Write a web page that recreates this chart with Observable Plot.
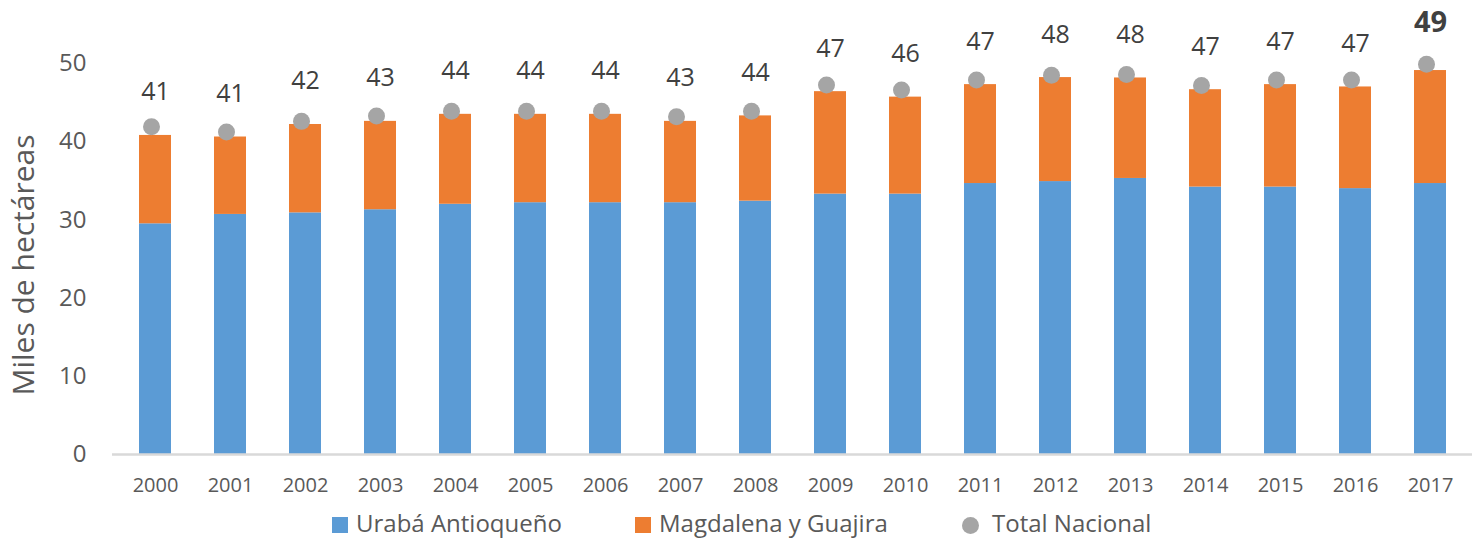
<!DOCTYPE html>
<html>
<head>
<meta charset="utf-8">
<script src="https://cdn.jsdelivr.net/npm/d3@7"></script>
<script src="https://cdn.jsdelivr.net/npm/@observablehq/plot@0.6"></script>
<style>
  html, body { margin: 0; padding: 0; background: #fff; }
  #chart svg { display: block; }
  #legend { position: relative; width: 1477px; height: 37px; font-family: "Open Sans", sans-serif; font-size: 24px; color: #595959; }
  #legend .sw { position: absolute; top: 12px; width: 16px; height: 16px; }
  #legend .lbl { position: absolute; top: 2px; line-height: 32px; white-space: nowrap; }
</style>
</head>
<body>
<div id="chart"></div>
<div id="legend"></div>
<script>
const years = ["2000","2001","2002","2003","2004","2005","2006","2007","2008","2009","2010","2011","2012","2013","2014","2015","2016","2017"];
const uraba = [29.5, 30.7, 30.9, 31.3, 32.0, 32.2, 32.2, 32.2, 32.4, 33.3, 33.3, 34.65, 34.9, 35.3, 34.2, 34.2, 34.0, 34.65];
const magdalena = [11.3, 9.9, 11.3, 11.3, 11.5, 11.3, 11.3, 10.4, 10.9, 13.1, 12.4, 12.65, 13.3, 12.85, 12.45, 13.1, 13.0, 14.45];
const totalNacional = [41.9, 41.25, 42.6, 43.3, 43.9, 43.9, 43.9, 43.2, 43.9, 47.25, 46.6, 47.9, 48.5, 48.6, 47.2, 47.9, 47.9, 49.9];
const totalLabels = [41, 41, 42, 43, 44, 44, 44, 43, 44, 47, 46, 47, 48, 48, 47, 47, 47, 49];
const seriesNames = ["Urabá Antioqueño", "Magdalena y Guajira", "Total Nacional"];
const seriesColors = ["#5B9BD5", "#ED7D31", "#A5A5A5"];
const yTicks = [0, 10, 20, 30, 40, 50];
const yTitle = "Miles de hectáreas";

const rows = [];
years.forEach((yr, i) => rows.push({year: yr, series: seriesNames[0], value: uraba[i]}));
years.forEach((yr, i) => rows.push({year: yr, series: seriesNames[1], value: magdalena[i]}));
const tops = years.map((yr, i) => ({year: yr, top: uraba[i] + magdalena[i], total: totalNacional[i], label: totalLabels[i], last: i === years.length - 1}));

const chart = Plot.plot({
  width: 1477,
  height: 505,
  marginLeft: 112,
  marginRight: 5,
  marginTop: 63,
  marginBottom: 51,
  style: {fontFamily: "'Open Sans', sans-serif", background: "#fff"},
  x: {domain: years, paddingInner: 0.577, paddingOuter: 0.2885},
  y: {domain: [0, 50]},
  color: {domain: seriesNames.slice(0, 2), range: seriesColors.slice(0, 2)},
  marks: [
    Plot.barY(rows, {x: "year", y: "value", fill: "series"}),
    Plot.ruleY([0], {stroke: "#D9D9D9", strokeWidth: 2.5}),
    Plot.dot(tops, {x: "year", y: "total", r: 8.5, fill: seriesColors[2], dx: -4}),
    Plot.text(tops.filter(d => !d.last), {x: "year", y: "top", text: "label", dy: -43, fontSize: 25, fill: "#404040"}),
    Plot.text(tops.filter(d => d.last), {x: "year", y: "top", text: "label", dy: -48, fontSize: 29, fontWeight: "bold", fill: "#404040"}),
    Plot.axisX({tickSize: 0, tickPadding: 23, fontSize: 20, color: "#595959", label: null}),
    Plot.axisY({ticks: yTicks, tickSize: 0, tickPadding: 26, fontSize: 24, color: "#595959", label: null}),
    Plot.text([yTitle], {text: d => d, frameAnchor: "left", textAnchor: "middle", lineAnchor: "middle", dx: -88, dy: 6, rotate: -90, fontSize: 30, fill: "#595959"})
  ]
});
document.getElementById("chart").appendChild(chart);

const legend = document.getElementById("legend");
const items = [
  {name: seriesNames[0], color: seriesColors[0], sw: 332, tx: 356, shape: "square"},
  {name: seriesNames[1], color: seriesColors[1], sw: 635, tx: 659, shape: "square"},
  {name: seriesNames[2], color: seriesColors[2], sw: 962, tx: 992, shape: "circle"}
];
items.forEach(it => {
  const s = document.createElement("div");
  s.className = "sw";
  s.style.left = it.sw + "px";
  s.style.background = it.color;
  if (it.shape === "circle") { s.style.borderRadius = "50%"; s.style.width = "17px"; s.style.height = "17px"; }
  legend.appendChild(s);
  const t = document.createElement("div");
  t.className = "lbl";
  t.style.left = it.tx + "px";
  t.textContent = it.name;
  legend.appendChild(t);
});
</script>
</body>
</html>
